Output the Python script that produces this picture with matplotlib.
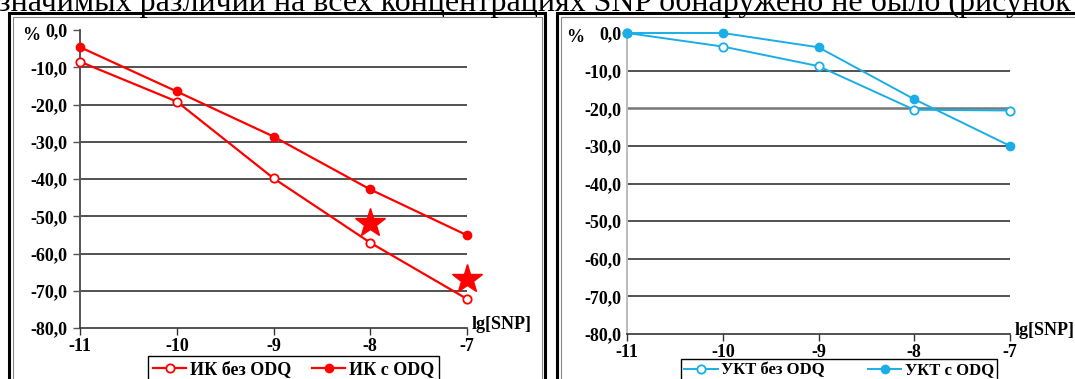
import matplotlib
matplotlib.use("Agg")
import matplotlib.pyplot as plt
from matplotlib.patches import Rectangle

plt.rcParams['font.family'] = ['Liberation Serif', 'DejaVu Serif']

W, H = 1075, 379

# data
lg_snp = [-11, -10, -9, -8, -7]
ik_bez = [-8.5, -19.2, -39.8, -57.1, -72.2]
ik_s = [-4.6, -16.5, -28.6, -42.8, -55.1]
star_x = [-8, -7]
star_y = [-51.8, -66.8]
ukt_bez = [0.0, -3.6, -8.8, -20.4, -20.6]
ukt_s = [0.0, 0.0, -3.8, -17.6, -30.0]
y_ticks = [0, -10, -20, -30, -40, -50, -60, -70, -80]
y_labels = ['0,0', '-10,0', '-20,0', '-30,0', '-40,0', '-50,0', '-60,0', '-70,0', '-80,0']
top_text = "значимых различий на всех концентрациях SNP обнаружено не было (рисунок"

RED = '#ff0000'
BLUE = '#1aaee6'
FS = 13


def frac(x, y):
    return x / W, 1 - y / H


def box(x0, y0, w, h):
    return [x0 / W, 1 - (y0 + h) / H, w / W, h / H]


fig = plt.figure(figsize=(W / 100, H / 100), dpi=100)

# text line cut at the top of the page
fig.text(*frac(-2, 11), top_text, fontsize=23, family='Liberation Serif',
         va='baseline', ha='left')


# frames of the two charts
def frame(x0, y0, x1, y1):
    fig.add_artist(Rectangle(frac(x0, y1), (x1 - x0) / W, (y1 - y0) / H,
                             transform=fig.transFigure, fill=False, ec='black', lw=2.2))
    fig.add_artist(Rectangle(frac(x0 + 3.5, y1), (x1 - x0 - 7) / W, (y1 - y0 - 3.5) / H,
                             transform=fig.transFigure, fill=False, ec='#888888', lw=0.8))


frame(9, 13, 545, 400)
frame(557, 13, 1090, 400)


def setup(ax, spine_color, tick_y):
    ax.set_xlim(-11, -7)
    ax.set_ylim(-80, 0)
    ax.set_xticks(lg_snp)
    ax.set_xticklabels([str(v) for v in lg_snp])
    ax.set_yticks(y_ticks)
    ax.set_yticklabels(y_labels)
    for s in ['top', 'right']:
        ax.spines[s].set_visible(False)
    ax.spines['left'].set_color(spine_color)
    ax.spines['left'].set_linewidth(1.4)
    ax.spines['bottom'].set_color('#333333')
    ax.spines['bottom'].set_linewidth(1.2)
    ax.tick_params(axis='x', length=5, width=1, color='#333333', pad=2)
    ax.tick_params(axis='y', length=tick_y, width=1, color=spine_color, pad=4)
    for lab in ax.get_xticklabels() + ax.get_yticklabels():
        lab.set_fontweight('bold')
        lab.set_fontsize(FS)
    ax.patch.set_alpha(0)


# left chart
ax1 = fig.add_axes(box(80, 30, 387, 298))
setup(ax1, '#555555', 5)
for v in y_ticks[1:-1]:
    ax1.axhline(v, color='#222222', lw=1.1, zorder=1)
ax1.plot(lg_snp, ik_bez, color=RED, lw=1.6, marker='o', ms=6, mfc='white', mec=RED, mew=1.3,
         label='ИК без ODQ', zorder=3, clip_on=False)
ax1.plot(lg_snp, ik_s, color=RED, lw=1.6, marker='o', ms=6, mfc=RED, mec=RED,
         label='ИК с ODQ', zorder=3, clip_on=False)
ax1.plot(star_x, star_y, ls='none', marker='*', ms=22, color=RED, zorder=4, clip_on=False)
fig.text(*frac(22, 36), '%', fontsize=FS, fontweight='bold', va='center')
ax1.text(-6.95, -79, 'lg[SNP]', fontsize=FS, fontweight='bold', va='center', ha='left',
         clip_on=False)
leg1 = ax1.legend(loc='upper left', bbox_to_anchor=frac(148, 356), bbox_transform=fig.transFigure,
                  ncol=2, frameon=True, fancybox=False, edgecolor='black', framealpha=1,
                  prop={'weight': 'bold', 'size': FS}, handlelength=1.8, handletextpad=0.2,
                  columnspacing=1.2, borderaxespad=0, borderpad=0.3)
leg1.get_frame().set_linewidth(1.0)

# right chart
ax2 = fig.add_axes(box(627, 33, 383, 301))
setup(ax2, '#bbbbbb', 0)
for v in y_ticks[1:-1]:
    if v == -20:
        ax2.axhline(v, color='#777777', lw=1.8, zorder=1)
    else:
        ax2.axhline(v, color='#222222', lw=1.1, zorder=1)
ax2.plot(lg_snp, ukt_bez, color=BLUE, lw=1.4, marker='o', ms=6, mfc='white', mec=BLUE, mew=1.3,
         label='УКТ без ODQ', zorder=3, clip_on=False)
ax2.plot(lg_snp, ukt_s, color=BLUE, lw=1.4, marker='o', ms=6, mfc=BLUE, mec=BLUE,
         label='УКТ с ODQ', zorder=3, clip_on=False)
fig.text(*frac(566, 38), '%', fontsize=FS, fontweight='bold', va='center')
ax2.text(-6.95, -79, 'lg[SNP]', fontsize=FS, fontweight='bold', va='center', ha='left',
         clip_on=False)
leg2 = ax2.legend(loc='upper left', bbox_to_anchor=frac(681, 359), bbox_transform=fig.transFigure,
                  ncol=2, frameon=True, fancybox=False, edgecolor='black', framealpha=1,
                  prop={'weight': 'bold', 'size': 12}, handlelength=2.0, handletextpad=0.2,
                  columnspacing=2.6, borderaxespad=0, borderpad=0.2)
leg2.get_frame().set_linewidth(1.0)

fig.savefig('out.png', dpi=100)
